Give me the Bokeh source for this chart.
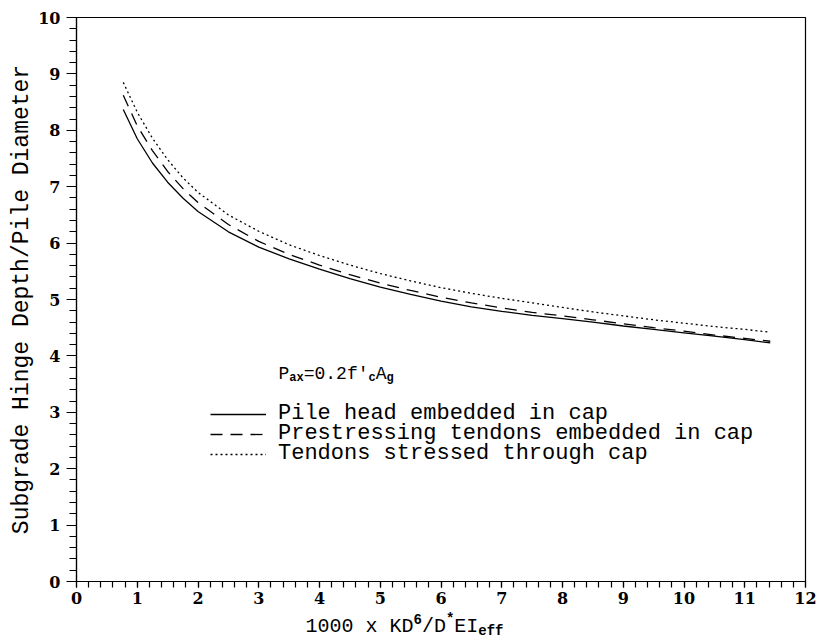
from bokeh.plotting import figure
from bokeh.layouts import column
from bokeh.models import Range1d, SingleIntervalTicker, Legend, LegendItem, Label
from bokeh.embed import file_html
from bokeh.resources import INLINE

# ---- data ----
x_vals = [0.77, 1.0, 1.25, 1.5, 1.75, 2.0, 2.5, 3.0, 3.5, 4.0, 4.5, 5.0, 5.5,
          6.0, 6.5, 7.0, 7.5, 8.0, 8.5, 9.0, 9.5, 10.0, 10.5, 11.0, 11.42]
pile_head = [8.37, 7.85, 7.42, 7.08, 6.80, 6.56, 6.20, 5.93, 5.72, 5.54, 5.37, 5.22, 5.09,
             4.97, 4.87, 4.79, 4.72, 4.66, 4.60, 4.53, 4.47, 4.41, 4.35, 4.29, 4.23]
prestress = [8.62, 8.08, 7.64, 7.27, 6.97, 6.72, 6.33, 6.03, 5.80, 5.61, 5.44, 5.29, 5.16,
             5.04, 4.94, 4.85, 4.77, 4.71, 4.64, 4.57, 4.50, 4.44, 4.37, 4.31, 4.26]
stressed = [8.85, 8.32, 7.86, 7.48, 7.16, 6.90, 6.50, 6.21, 5.97, 5.78, 5.61, 5.46, 5.33,
            5.21, 5.11, 5.02, 4.94, 4.86, 4.78, 4.71, 4.64, 4.58, 4.52, 4.47, 4.42]
series_labels = ["Pile head embedded in cap",
                 "Prestressing tendons embedded in cap",
                 "Tendons stressed through cap"]
y_label = "Subgrade Hinge Depth/Pile Diameter"
x_label_parts = ["1000 x KD", "6", "/D", "*", "EI", "eff"]
note_parts = ["P", "ax", "=0.2f'", "c", "A", "g"]

MONO = "Liberation Mono"
SERIF = "DejaVu Serif"

p = figure(width=820, height=614, output_backend="svg", toolbar_location=None,
           x_range=Range1d(0, 12), y_range=Range1d(0, 10),
           min_border_left=76, min_border_right=15, min_border_top=17, min_border_bottom=33)
p.grid.visible = False
p.outline_line_color = "black"
p.outline_line_width = 1.2

for ax in (p.xaxis[0], p.yaxis[0]):
    ax.ticker = SingleIntervalTicker(interval=1, num_minor_ticks=5)
    ax.axis_line_color = "black"
    ax.axis_line_width = 1.2
    ax.major_tick_line_color = "black"
    ax.minor_tick_line_color = "black"
    ax.major_tick_line_width = 1.2
    ax.minor_tick_line_width = 1.2
    ax.major_tick_in = 0
    ax.minor_tick_in = 0
    ax.major_label_text_font = SERIF
    ax.major_label_text_font_size = "16px"
    ax.major_label_text_font_style = "bold"
    ax.major_label_text_color = "black"

p.xaxis.major_tick_out = 6
p.xaxis.minor_tick_out = 6
p.xaxis.major_label_standoff = 4
p.yaxis.major_tick_out = 10
p.yaxis.minor_tick_out = 7
p.yaxis.major_label_standoff = 6
p.yaxis.axis_label = y_label
p.yaxis.axis_label_text_font = MONO
p.yaxis.axis_label_text_font_size = "23px"
p.yaxis.axis_label_text_font_style = "normal"
p.yaxis.axis_label_text_color = "black"
p.yaxis.axis_label_standoff = 0

r1 = p.line(x_vals, pile_head, line_color="black", line_width=1.3)
r2 = p.line(x_vals, prestress, line_color="black", line_width=1.3, line_dash="12 8")
r3 = p.line(x_vals, stressed, line_color="black", line_width=1.3, line_dash="2 3")

# one legend per row so that rows can sit 20px apart
for i, (lab, rr) in enumerate(zip(series_labels, [r1, r2, r3])):
    lg = Legend(items=[LegendItem(label=lab, renderers=[rr])],
                location=(134, 155 - 20 * i),
                glyph_width=56, glyph_height=20, label_height=20, label_standoff=12,
                spacing=0, padding=0, margin=0,
                border_line_color=None, background_fill_alpha=0,
                label_text_font=MONO, label_text_font_size="22px", label_text_color="black")
    p.add_layout(lg)


def composite(fig, parts, x0, y0, big, small, sup_dy, sub_dy, styles):
    x = x0
    for txt, kind in zip(parts, styles):
        if kind == "main":
            size, dy, fs = big, 0, "normal"
        elif kind == "sup":
            size, dy, fs = small, sup_dy, "bold"
        else:
            size, dy, fs = small, sub_dy, "bold"
        fig.add_layout(Label(x=x, y=y0 + dy, x_units="screen", y_units="screen", text=txt,
                             text_align="left", text_baseline="alphabetic",
                             text_font=MONO, text_font_size=f"{size}px", text_font_style=fs,
                             text_color="black"))
        x += 0.6 * size * len(txt)


# P_ax = 0.2 f'c Ag note inside the plot
composite(p, note_parts, 202, 208, 18, 12, 8, -4, ["main", "sub", "main", "sub", "main", "sub"])

# strip below the plot carrying the x axis title (with super/subscripts);
# pulled up slightly so that the superscripts have room
p2 = figure(width=820, height=34, output_backend="svg", toolbar_location=None,
            x_range=Range1d(0, 1), y_range=Range1d(0, 1),
            x_axis_type=None, y_axis_type=None,
            min_border_left=0, min_border_right=0, min_border_top=0, min_border_bottom=0,
            margin=(-12, 0, 0, 0))
p2.grid.visible = False
p2.outline_line_color = None
p2.background_fill_alpha = 0
p2.border_fill_alpha = 0
composite(p2, x_label_parts, 229, 10, 20, 14, 8, -4, ["main", "sup", "main", "sup", "main", "sub"])

layout = column(p, p2, spacing=0)
open("out.html", "w").write(file_html(layout, INLINE))
